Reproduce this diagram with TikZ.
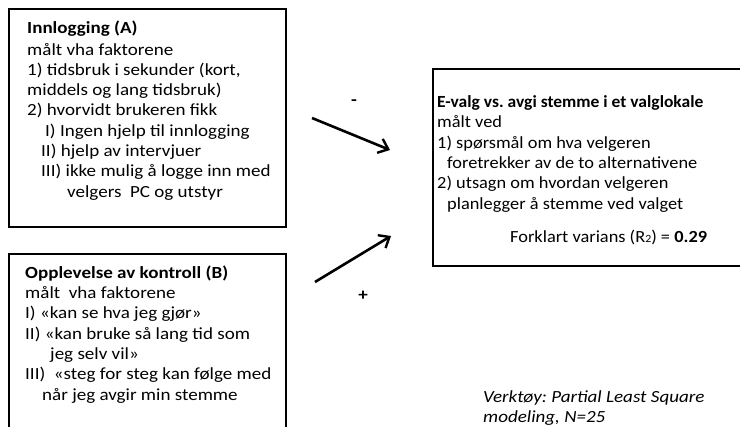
\documentclass[tikz,border=0pt]{standalone}
\usepackage{fontspec}
\setmainfont{Carlito}[FakeStretch=1.12]
\newfontfamily\cfont{Carlito}[FakeStretch=1.08]
\newfontfamily\ctitlefont{Carlito}[FakeStretch=1.03]
\usetikzlibrary{arrows.meta}
\tikzset{
  box/.style={draw=black, line width=2pt},
  txt/.style={anchor=north west, inner sep=0pt, align=left, font=\fontsize{17}{20.3}\selectfont},
  conn/.style={line width=2.6pt, -{Straight Barb[length=9pt,width=15pt,line width=2.4pt]}},
  sign/.style={inner sep=0pt, font=\fontsize{17}{20}\selectfont\bfseries}
}
\begin{document}
\frenchspacing
\begin{tikzpicture}[x=1pt,y=-1pt]
\useasboundingbox (0,0) rectangle (740,427);
% boxes
\draw[box] (9,9.5) rectangle (286,227.5);
\draw[box] (9,254) rectangle (286,445);
\draw[box] (433,69) rectangle (760,266);
% box A text
\node[txt] (ta) at (27,20.2) {\textbf{Innlogging (A)}\\[1.7pt]
målt vha faktorene\\
1) tidsbruk i sekunder (kort,\\
middels og lang tidsbruk)\\
2) hvorvidt brukeren fikk\\
\hspace*{18pt}I) Ingen hjelp til innlogging\\
\hspace*{14pt}II) hjelp av intervjuer\\
\hspace*{14pt}III) ikke mulig å logge inn med\\
\hspace*{40pt}velgers\ \ PC og utstyr};
% box B text
\node[txt] (tb) at (25,265.5) {\textbf{Opplevelse av kontroll (B)}\\
målt\ \ vha faktorene\\
I) «kan se hva jeg gjør»\\
II) «kan bruke så lang tid som\\
\hspace*{25pt}jeg selv vil»\\
III)\ \ «steg for steg kan følge med\\
\hspace*{17pt}når jeg avgir min stemme};
% box C text
\node[txt, font=\fontsize{17}{20.3}\selectfont\cfont] (tc) at (437,95.5) {{\ctitlefont\bfseries E-valg vs. avgi stemme i et valglokale}\\
målt ved\\
1) spørsmål om hva velgeren\\
\hspace*{10pt}foretrekker av de to alternativene\\
2) utsagn om hvordan velgeren\\
\hspace*{10pt}planlegger å stemme ved valget};
\node[anchor=base west, inner sep=0pt, font=\fontsize{17}{20.3}\selectfont\cfont] (r2) at (510,243)
  {Forklart varians (R{\fontsize{11}{11}\selectfont 2}) = \textbf{0.29}};
% note
\node[txt, font=\fontsize{17}{20.3}\selectfont\itshape] (note) at (483,390)
  {Verktøy: Partial Least Square\\modeling, N=25};
% arrows
\coordinate (a1s) at (312,118);
\coordinate (a1e) at (390,150);
\coordinate (a2s) at (315,282);
\coordinate (a2e) at (391,236);
\draw[conn] (a1s) -- (a1e);
\draw[conn] (a2s) -- (a2e);
\node[sign] (minus) at (354,103) {-};
\node[sign] (plus) at (363,296) {+};
\end{tikzpicture}
\end{document}
